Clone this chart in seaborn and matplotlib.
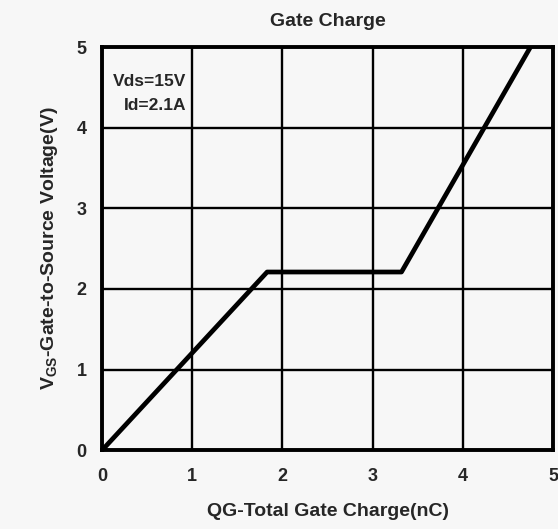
import matplotlib
matplotlib.use("Agg")
import matplotlib.pyplot as plt
import seaborn as sns
import pandas as pd

# Data
qg_nc = [0.0, 1.83, 3.32, 4.75]
vgs_v = [0.0, 2.21, 2.21, 5.0]
x_ticks = [0, 1, 2, 3, 4, 5]
y_ticks = [0, 1, 2, 3, 4, 5]
title = "Gate Charge"
x_label = "QG-Total Gate Charge(nC)"
y_label = "V$_{\\mathrm{GS}}$-Gate-to-Source Voltage(V)"
note = "Vds=15V\nId=2.1A"

sns.set_style("white")
plt.rcParams['font.family'] = ['Liberation Sans', 'DejaVu Sans']
plt.rcParams['mathtext.fontset'] = 'custom'
plt.rcParams['mathtext.rm'] = 'Liberation Sans:bold'
plt.rcParams['mathtext.bf'] = 'Liberation Sans:bold'

bg = '#f7f7f7'
fig = plt.figure(figsize=(5.58, 5.29), dpi=100, facecolor=bg)
ax = fig.add_axes([0.183, 0.149, 0.808, 0.762])
ax.set_facecolor(bg)

df = pd.DataFrame({"qg": qg_nc, "vgs": vgs_v})
sns.lineplot(data=df, x="qg", y="vgs", ax=ax, color="black", linewidth=3.4,
             zorder=3, clip_on=False, solid_capstyle='butt')

ax.set_xlim(0, 5)
ax.set_ylim(0, 5)
ax.set_xticks(x_ticks)
ax.set_yticks(y_ticks)
ax.grid(True, color='black', linewidth=1.7)
ax.tick_params(axis='both', length=0, labelsize=13)
ax.tick_params(axis='x', pad=13)
ax.tick_params(axis='y', pad=11)
for lab in ax.get_xticklabels() + ax.get_yticklabels():
    lab.set_fontweight('bold')
for s in ax.spines.values():
    s.set_color('black')
    s.set_linewidth(2.8)
    s.set_visible(True)

ax.set_xlabel(x_label, fontsize=14, fontweight='bold', labelpad=13)
ax.set_ylabel(y_label, fontsize=14, fontweight='bold', labelpad=12)
ax.set_title(title, fontsize=14, fontweight='bold', pad=15)

ax.text(0.93, 4.43, note, ha='right', va='center', fontsize=12.5,
        fontweight='semibold', linespacing=1.75, zorder=4)

fig.savefig("out.png", dpi=100, facecolor=bg)
